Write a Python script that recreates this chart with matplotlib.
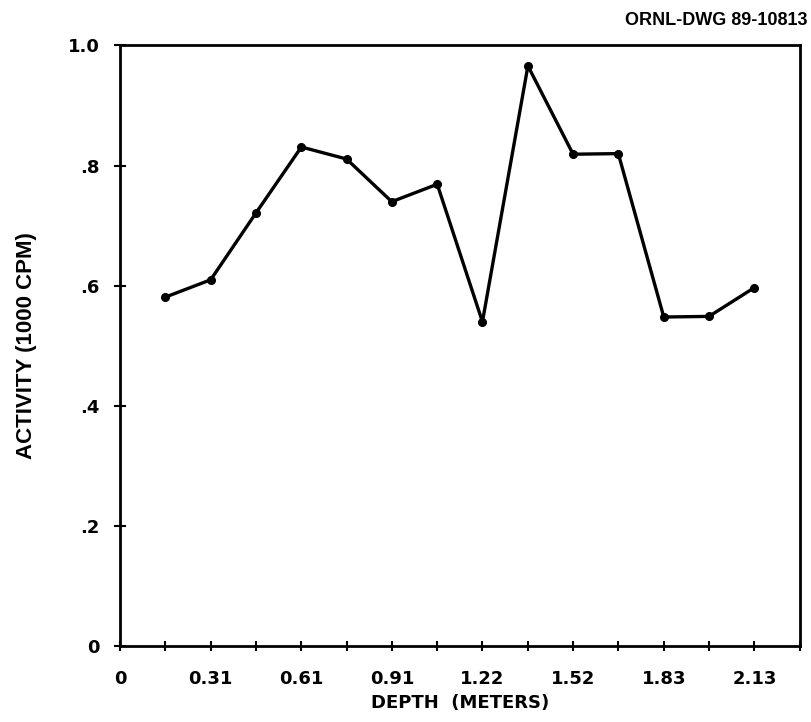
import matplotlib
matplotlib.use("Agg")
import matplotlib.pyplot as plt

# Data
depth_m = [0.152, 0.305, 0.457, 0.610, 0.762, 0.914, 1.067, 1.219,
           1.372, 1.524, 1.676, 1.829, 1.981, 2.134]
activity = [0.581, 0.610, 0.721, 0.831, 0.811, 0.740, 0.769, 0.540,
            0.966, 0.819, 0.820, 0.548, 0.549, 0.597]

x_minor_ticks = [0.1524 * k for k in range(16)]
x_major_ticks = [0.0, 0.3048, 0.6096, 0.9144, 1.2192, 1.524, 1.8288, 2.1336]
x_tick_labels = ["0", "0.31", "0.61", "0.91", "1.22", "1.52", "1.83", "2.13"]
y_ticks = [0.0, 0.2, 0.4, 0.6, 0.8, 1.0]
y_tick_labels = ["0", ".2", ".4", ".6", ".8", "1.0"]

fig = plt.figure(figsize=(8.11, 7.22), dpi=100)
ax = fig.add_axes([0.148, 0.105, 0.838, 0.832])

ax.plot(depth_m, activity, color="black", linewidth=2.4,
        marker="o", markersize=5.5, solid_joinstyle="round")

ax.set_xlim(0, 2.286)
ax.set_ylim(0, 1.0)

ax.set_xticks(x_minor_ticks, minor=True)
ax.set_xticks(x_major_ticks)
ax.set_xticklabels(x_tick_labels)
ax.set_yticks(y_ticks)
ax.set_yticklabels(y_tick_labels)

for s in ax.spines.values():
    s.set_linewidth(2.0)
    s.set_color("black")

ax.tick_params(axis="x", which="both", direction="inout", length=7, width=1.5,
               labelsize=13, pad=14)
ax.tick_params(axis="y", which="both", direction="inout", length=9, width=1.5,
               labelsize=13, pad=10)
for lbl in ax.get_xticklabels() + ax.get_yticklabels():
    lbl.set_fontweight("bold")
    lbl.set_family(["DejaVu Sans"])

ax.set_xlabel("DEPTH  (METERS)", fontsize=13, fontweight="bold", labelpad=4)
ax.set_ylabel("ACTIVITY (1000 CPM)", fontsize=16, fontweight="bold",
              family=["Liberation Sans Narrow", "Liberation Sans", "DejaVu Sans"],
              labelpad=22)

fig.text(0.996, 0.972, "ORNL-DWG 89-10813", ha="right", va="center",
         fontsize=13, fontweight="bold",
         family=["Liberation Sans Narrow", "Liberation Sans", "DejaVu Sans"])

fig.savefig("out.png", dpi=100, facecolor="white")
